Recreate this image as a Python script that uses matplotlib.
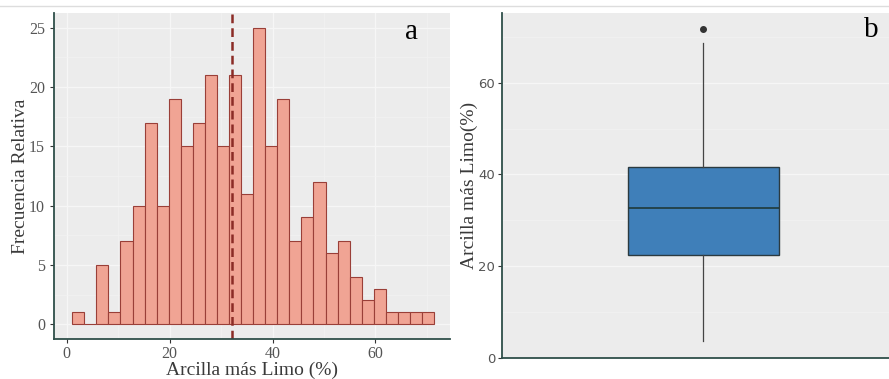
import numpy as np
import matplotlib.pyplot as plt
from matplotlib.lines import Line2D

# histogram (panel a): 30 bins, counts
bin_start = 1.05
bin_width = 2.345
counts = [1, 0, 5, 1, 7, 10, 17, 10, 19, 15, 17, 21, 15, 21, 11,
          25, 15, 19, 7, 9, 12, 6, 7, 4, 2, 3, 1, 1, 1, 1]
mean_value = 32.2

# boxplot (panel b) summary
box_stats = dict(whislo=3.6, q1=22.4, med=32.6, q3=41.7, whishi=68.7, fliers=[71.8])

plt.rcParams['font.family'] = ['Liberation Serif', 'DejaVu Serif']

W, H = 889, 379
fig = plt.figure(figsize=(W / 100, H / 100), dpi=100)

panel_bg = '#ececec'
spine_col = '#2f4f4a'

def px_axes(l, t, r, b):
    return fig.add_axes([l / W, 1 - b / H, (r - l) / W, (b - t) / H])

def style(ax):
    ax.set_facecolor(panel_bg)
    for s in ('top', 'right'):
        ax.spines[s].set_visible(False)
    for s in ('left', 'bottom'):
        ax.spines[s].set_color(spine_col)
        ax.spines[s].set_linewidth(1.3)
    ax.grid(True, which='major', color='#f6f6f6', linewidth=0.9)
    ax.grid(True, which='minor', color='#f3f3f3', linewidth=0.45)
    ax.set_axisbelow(True)
    ax.tick_params(which='major', length=3, color='#333333', labelcolor='#555555', labelsize=11)
    ax.tick_params(which='minor', length=0)

# panel a
ax1 = px_axes(54, 13, 450, 339)
style(ax1)
edges = bin_start + bin_width * np.arange(len(counts))
ax1.bar(edges, counts, width=bin_width, align='edge', color='#f0a494',
        edgecolor='#9a3f38', linewidth=0.8)
ax1.axvline(mean_value, color='#8b2c26', linestyle='--', linewidth=1.8, dashes=(3.5, 2))
ax1.set_xlim(-2.5, 74.5)
ax1.set_ylim(-1.25, 26.25)
ax1.set_xticks([0, 20, 40, 60])
ax1.set_xticks([10, 30, 50, 70], minor=True)
ax1.set_yticks([0, 5, 10, 15, 20, 25])
ax1.set_yticks([2.5, 7.5, 12.5, 17.5, 22.5], minor=True)
ax1.tick_params(axis='x', pad=2)
for lab in ax1.get_xticklabels() + ax1.get_yticklabels():
    lab.set_family('Liberation Serif')
    lab.set_fontsize(11.5)
ax1.set_xlabel('Arcilla más Limo (%)', fontsize=14, color='#3a3a3a', labelpad=0)
ax1.set_ylabel('Frecuencia Relativa', fontsize=14, color='#3a3a3a', labelpad=0)
ax1.text(0.904, 0.942, 'a', transform=ax1.transAxes, fontsize=21, ha='center', va='center')

# panel b
ax2 = px_axes(502, 13, 889, 358)
style(ax2)
ax2.bxp([box_stats], positions=[1], widths=0.39, patch_artist=True, showcaps=False,
        boxprops=dict(facecolor='#3f7fb9', edgecolor='#2b3a40', linewidth=1.0),
        medianprops=dict(color='#1f3a3a', linewidth=1.2),
        whiskerprops=dict(color='#444444', linewidth=0.9),
        flierprops=dict(marker='o', markerfacecolor='#333333', markeredgecolor='#333333',
                        markersize=4))
ax2.set_xlim(0.48, 1.48)
ax2.set_ylim(0, 75.2)
ax2.set_xticks([])
ax2.set_yticks([0, 20, 40, 60])
ax2.set_yticks([10, 30, 50, 70], minor=True)
ax2.grid(False, axis='x', which='both')
ax2.tick_params(axis='y', pad=2)
for lab in ax2.get_yticklabels():
    lab.set_family('DejaVu Sans')
    lab.set_fontsize(9.5)
ax2.set_ylabel('Arcilla más Limo(%)', fontsize=14, color='#3a3a3a', labelpad=0)
ax2.text(0.953, 0.951, 'b', transform=ax2.transAxes, fontsize=21, ha='center', va='center')

# thin line at the top of the screenshot
fig.add_artist(Line2D([0, 1], [1 - 6 / H, 1 - 6 / H], color='#dddddd', linewidth=1,
                      transform=fig.transFigure))

fig.savefig('out.png', dpi=100)
